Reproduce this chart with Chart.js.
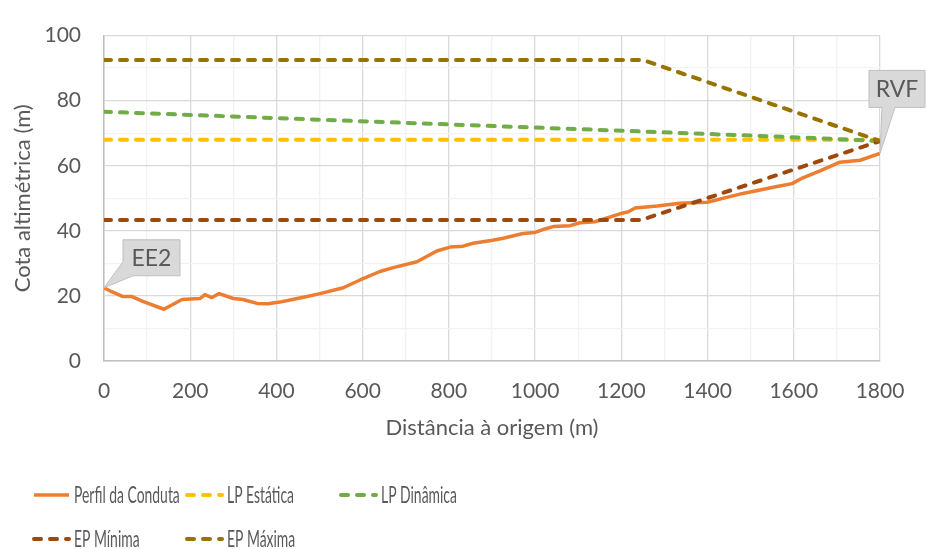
<!DOCTYPE html>
<html>
<head>
<meta charset="utf-8">
<script src="https://cdn.jsdelivr.net/npm/chart.js@4.4.0/dist/chart.umd.min.js"></script>
<style>
  html, body { margin: 0; padding: 0; background: #fff; }
  #wrap { width: 926px; height: 549px; }
</style>
</head>
<body>
<div id="wrap"><canvas id="perfilChart"></canvas></div>
<script>
// perfil longitudinal: cotas do terreno ao longo da conduta (m)
var distancia = [0, 18, 44, 65, 90, 139, 181, 223, 234, 250, 267, 300, 322, 355, 380, 408, 440, 471, 501, 555,
  594, 640, 671, 726, 772, 803, 833, 856, 902, 926, 972, 1000, 1018, 1042, 1081, 1104, 1139, 1204, 1215, 1232,
  1283, 1336, 1399, 1482, 1561, 1596, 1621, 1661, 1707, 1754, 1800];
var cotaPerfil = [22.5, 21.3, 19.8, 19.8, 18.3, 15.9, 18.9, 19.2, 20.4, 19.5, 20.7, 19.2, 18.9, 17.7, 17.6, 18.1, 19.0, 19.8, 20.7, 22.5,
  24.9, 27.5, 28.7, 30.5, 33.8, 35.0, 35.3, 36.2, 37.1, 37.7, 39.2, 39.5, 40.4, 41.3, 41.6, 42.5, 42.8, 45.5, 45.8, 47.0,
  47.6, 48.5, 48.8, 51.5, 53.6, 54.5, 56.3, 58.4, 61.1, 61.7, 63.8];

// linhas piezométricas e envolventes de pressão
var lpEstaticaX = [0, 1800];
var lpEstatica = [68, 68];
var lpDinamicaX = [0, 594, 1174, 1614, 1800];
var lpDinamica = [76.6, 73.7, 70.9, 68.7, 67.6];
var epMinimaX = [0, 1245, 1800];
var epMinima = [43.3, 43.3, 67.6];
var epMaximaX = [0, 1250, 1800];
var epMaxima = [92.5, 92.5, 67.6];

var nomesSeries = ['Perfil da Conduta', 'LP Estática', 'LP Dinâmica', 'EP Mínima', 'EP Máxima'];
var coresSeries = ['#ED7D31', '#FFC000', '#70AD47', '#9E480E', '#997300'];
var pontosNotaveis = ['EE2', 'RVF'];

var xMin = 0, xMax = 1800, xPasso = 100, xEtiqueta = 200;
var yMin = 0, yMax = 100, yPasso = 10, yEtiqueta = 20;

var corTexto = '#595959';
var tracejado = [7, 9];

function pares(xs, ys) {
  return xs.map(function (x, i) { return { x: x, y: ys[i] }; });
}

function serie(i, xs, ys, dash, ordem) {
  return {
    label: nomesSeries[i],
    data: pares(xs, ys),
    borderColor: coresSeries[i],
    backgroundColor: coresSeries[i],
    borderWidth: dash.length ? 4 : 3.5,
    borderDash: dash,
    borderCapStyle: dash.length ? 'round' : 'butt',
    borderJoinStyle: 'round',
    pointRadius: 0,
    tension: 0,
    order: ordem
  };
}

// legenda em grelha, desenhada no canvas
var legendaGrelha = {
  id: 'legendaGrelha',
  afterDraw: function (chart) {
    var ctx = chart.ctx;
    var celulas = [[32, 495], [185, 495], [339, 495], [32, 539], [185, 539]];
    chart.data.datasets.forEach(function (ds, i) {
      var c = celulas[i];
      ctx.save();
      ctx.strokeStyle = ds.borderColor;
      ctx.lineWidth = ds.borderWidth;
      ctx.lineCap = ds.borderCapStyle;
      ctx.setLineDash(ds.borderDash);
      ctx.beginPath();
      ctx.moveTo(c[0] + 2, c[1]);
      ctx.lineTo(c[0] + 37, c[1]);
      ctx.stroke();
      ctx.setLineDash([]);
      ctx.fillStyle = corTexto;
      ctx.font = '24px Lato';
      ctx.textBaseline = 'alphabetic';
      ctx.translate(c[0] + 42, c[1] + 8);
      ctx.scale(0.58, 1);
      ctx.fillText(ds.label, 0, 0);
      ctx.restore();
    });
  }
};

// balões de identificação no início e no fim da conduta
function balao(ctx, texto, px, py, caixa, cauda) {
  var l = px + caixa[0], t = py + caixa[1], r = l + caixa[2], b = t + caixa[3];
  ctx.save();
  ctx.beginPath();
  if (cauda === 'esquerda') {
    ctx.moveTo(l, t); ctx.lineTo(r, t); ctx.lineTo(r, b);
    ctx.lineTo(l + 10, b); ctx.lineTo(px, py); ctx.lineTo(l, b - 14);
  } else {
    ctx.moveTo(l, t); ctx.lineTo(r, t); ctx.lineTo(r, b);
    ctx.lineTo(l + 26, b); ctx.lineTo(px, py); ctx.lineTo(l + 13, b); ctx.lineTo(l, b);
  }
  ctx.closePath();
  ctx.fillStyle = '#d9d9d9';
  ctx.fill();
  ctx.strokeStyle = '#bfbfbf';
  ctx.lineWidth = 1;
  ctx.stroke();
  ctx.fillStyle = corTexto;
  ctx.font = '23px Lato';
  ctx.textAlign = 'center';
  ctx.textBaseline = 'middle';
  ctx.fillText(texto, (l + r) / 2, (t + b) / 2 + 1);
  ctx.restore();
}

var baloes = {
  id: 'baloes',
  afterDatasetsDraw: function (chart) {
    var pts = chart.getDatasetMeta(0).data;
    var ini = pts[0], fim = pts[pts.length - 1];
    balao(chart.ctx, pontosNotaveis[0], ini.x, ini.y, [19, -48, 57, 36], 'esquerda');
    balao(chart.ctx, pontosNotaveis[1], fim.x, fim.y, [-11, -83, 56, 37], 'baixo');
  }
};

function corGrelha(passo) {
  return function (c) {
    return c.tick && c.tick.value % passo === 0 ? '#d9d9d9' : '#f2f2f2';
  };
}

var ctx = document.getElementById('perfilChart').getContext('2d');
var chart = new Chart(ctx, {
  type: 'line',
  data: {
    datasets: [
      serie(0, distancia, cotaPerfil, [], 5),
      serie(1, lpEstaticaX, lpEstatica, tracejado, 4),
      serie(2, lpDinamicaX, lpDinamica, tracejado, 3),
      serie(3, epMinimaX, epMinima, tracejado, 2),
      serie(4, epMaximaX, epMaxima, tracejado, 1)
    ]
  },
  options: {
    responsive: true,
    maintainAspectRatio: false,
    devicePixelRatio: 1,
    animation: false,
    layout: { padding: { left: 10, right: 46, top: 27, bottom: 98 } },
    plugins: {
      legend: { display: false },
      tooltip: { enabled: false }
    },
    scales: {
      x: {
        type: 'linear',
        min: xMin,
        max: xMax,
        afterFit: function (s) { s.height = 90; },
        ticks: {
          stepSize: xPasso,
          autoSkip: false,
          maxRotation: 0,
          padding: 18,
          color: corTexto,
          font: { family: 'Lato', size: 21 },
          callback: function (v) { return v % xEtiqueta === 0 ? v : ''; }
        },
        grid: { color: corGrelha(xEtiqueta), lineWidth: 1.3, drawTicks: false },
        border: { color: '#bfbfbf', width: 1.5 },
        title: {
          display: true,
          text: 'Distância à origem (m)',
          color: corTexto,
          font: { family: 'Lato', size: 22 },
          padding: { top: 0, bottom: 10 }
        }
      },
      y: {
        min: yMin,
        max: yMax,
        afterFit: function (s) { s.width = 94; },
        ticks: {
          stepSize: yPasso,
          padding: 23,
          color: corTexto,
          font: { family: 'Lato', size: 21 },
          callback: function (v) { return v % yEtiqueta === 0 ? v : ''; }
        },
        grid: { color: corGrelha(yEtiqueta), lineWidth: 1.3, drawTicks: false },
        border: { color: '#bfbfbf', width: 1.5 },
        title: {
          display: true,
          text: 'Cota altimétrica (m)',
          color: corTexto,
          font: { family: 'Lato', size: 22 },
          padding: 0
        }
      }
    }
  },
  plugins: [baloes, legendaGrelha]
});
</script>
</body>
</html>
